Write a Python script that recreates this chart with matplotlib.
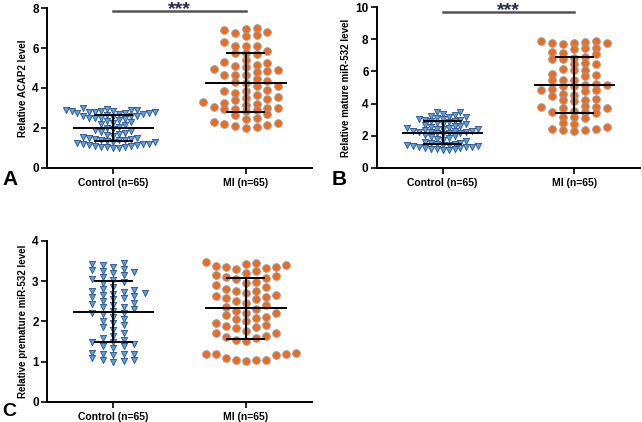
import matplotlib
matplotlib.use("Agg")
import matplotlib.pyplot as plt
import numpy as np

plt.rcParams["font.family"] = ["Liberation Sans", "DejaVu Sans"]
plt.rcParams["font.weight"] = "bold"

groups = ["Control (n=65)", "MI (n=65)"]

# Panel A: relative ACAP2 level
acap2_control = [2.98, 2.95, 2.92, 2.90, 2.88, 2.86, 2.85, 2.83, 2.82, 2.80, 2.78, 2.77, 2.75, 2.74, 2.72,
                 2.68, 2.65, 2.62, 2.60, 2.58, 2.55, 2.52, 2.50, 2.48, 2.45,
                 2.38, 2.33, 2.28, 2.24, 2.20, 2.15,
                 2.05, 1.98, 1.93, 1.88, 1.84,
                 1.78, 1.74, 1.70, 1.66, 1.62,
                 1.55, 1.52, 1.50, 1.47, 1.45, 1.42, 1.40, 1.38, 1.35, 1.32,
                 1.28, 1.25, 1.22, 1.20, 1.18, 1.15, 1.12, 1.10, 1.07, 1.05, 1.03, 1.01, 1.00, 1.16]
acap2_mi = [7.00, 6.95, 6.92, 6.82, 6.77, 6.67, 6.62,
            6.29, 6.10, 6.10, 6.08,
            5.83, 5.76, 5.76, 5.68,
            5.38, 5.29, 5.26, 5.16, 5.10, 5.03,
            4.93, 4.90, 4.83, 4.80, 4.63, 4.63, 4.63,
            4.43, 4.37, 4.30, 4.23, 4.10, 4.10,
            3.88, 3.87, 3.83, 3.77, 3.63, 3.55, 3.50, 3.44, 3.40,
            3.29, 3.27, 3.22, 3.17, 3.07, 3.02, 3.00, 2.97, 2.94,
            2.89, 2.84, 2.69, 2.64, 2.52, 2.44, 2.32, 2.27, 2.22, 2.17, 2.10, 2.05, 2.00]

# Panel B: relative mature miR-532 level
mature_control = [3.50, 3.45, 3.38, 3.30, 3.25, 3.20, 3.15, 3.10, 3.05, 3.02, 3.00, 2.98, 2.95,
                  2.90, 2.85, 2.80, 2.75, 2.72, 2.68, 2.62, 2.58, 2.55, 2.50,
                  2.48, 2.45, 2.42, 2.40, 2.36, 2.32, 2.30, 2.28, 2.26, 2.25, 2.22, 2.20, 2.18, 2.15,
                  2.10, 2.05, 1.98, 1.92, 1.85, 1.80,
                  1.75, 1.68, 1.62, 1.58, 1.55, 1.50, 1.48, 1.45, 1.42, 1.40, 1.38,
                  1.35, 1.32, 1.30, 1.28, 1.25, 1.22, 1.20, 1.18, 1.15, 1.12, 1.10]
mature_mi = [7.90, 7.88, 7.85, 7.80, 7.78, 7.75, 7.72,
             7.48, 7.45, 7.42,
             7.20, 7.15, 7.10,
             6.88, 6.85, 6.80, 6.78,
             6.52, 6.48, 6.45,
             6.18, 6.12, 6.10,
             5.82, 5.78, 5.75,
             5.50, 5.48, 5.45,
             5.20, 5.18, 5.15, 5.12, 5.10,
             4.90, 4.85, 4.82, 4.80,
             4.58, 4.55, 4.50,
             4.28, 4.25, 4.20, 4.18,
             3.85, 3.80, 3.78, 3.75, 3.72,
             3.52, 3.48, 3.45, 3.42,
             3.20, 3.15, 3.10,
             2.80, 2.75,
             2.52, 2.45, 2.42, 2.38, 2.35, 2.32]

# Panel C: relative premature miR-532 level
premature_control = [3.45, 3.42, 3.40, 3.35, 3.30, 3.28, 3.25, 3.22, 3.20, 3.15, 3.10, 3.05, 3.02, 2.98, 2.95,
                     2.85, 2.80, 2.78, 2.75, 2.72, 2.70, 2.68, 2.65, 2.62, 2.60, 2.58, 2.55, 2.50,
                     2.45, 2.42, 2.40, 2.35, 2.35, 2.30, 2.25, 2.22, 2.20, 2.18,
                     2.10, 2.05, 2.00, 1.95, 1.90, 1.85, 1.78,
                     1.70, 1.65, 1.60, 1.55, 1.50, 1.48, 1.45, 1.40, 1.38, 1.35,
                     1.22, 1.20, 1.19, 1.18, 1.16, 1.08, 1.05, 1.03, 1.02, 1.00]
premature_mi = [3.48, 3.45, 3.42, 3.40, 3.38, 3.36, 3.35, 3.33, 3.30,
                3.25, 3.20, 3.15, 3.12, 3.10, 3.08, 3.05,
                2.98, 2.95, 2.90, 2.85, 2.80, 2.75, 2.75, 2.70, 2.65, 2.62, 2.60, 2.58, 2.55,
                2.50, 2.45, 2.40, 2.35, 2.30, 2.25, 2.22, 2.20, 2.15,
                2.10, 2.08, 2.05, 2.00, 1.95, 1.90, 1.88, 1.85, 1.83,
                1.75, 1.72, 1.70, 1.65, 1.62, 1.58, 1.55, 1.52,
                1.22, 1.20, 1.19, 1.18, 1.16, 1.08, 1.05, 1.04, 1.03, 1.02]

BLUE, BLUE_EDGE = "#5aa0e6", "#2b4f80"
ORANGE, ORANGE_EDGE = "#f26a1b", "#9a9a9a"


def swarm_x(vals, center, gap, dx):
    """Prism-like column scatter: each point goes to the nearest column where it
    does not sit closer than `gap` (data units) to a point already there."""
    vals = np.asarray(vals, float)
    cols = {}
    xs = np.empty(len(vals))
    flip = 1
    for i in np.argsort(vals):
        y = vals[i]
        k = None
        step = 0
        while k is None:
            cands = [0] if step == 0 else [flip * step, -flip * step]
            for c in cands:
                if all(abs(y - yy) >= gap for yy in cols.get(c, [])):
                    k = c
                    break
            step += 1
        if k != 0:
            flip = -flip
        cols.setdefault(k, []).append(y)
        xs[i] = center + k * dx
    return xs


def mean_sd(ax, vals, center):
    m, s = np.mean(vals), np.std(vals, ddof=1)
    ax.plot([center - 0.3, center + 0.3], [m, m], color="black", lw=1.4, zorder=5)
    ax.plot([center - 0.14, center + 0.14], [m + s, m + s], color="black", lw=1.4, zorder=5)
    ax.plot([center - 0.14, center + 0.14], [m - s, m - s], color="black", lw=1.4, zorder=5)
    ax.plot([center, center], [m - s, m + s], color="black", lw=1.4, zorder=5)


def panel(ax, ctrl, mi, ylabel, ymax, ystep, spacing, sig=None):
    (gc, dxc), (gm, dxm) = spacing
    ax.scatter(swarm_x(ctrl, 0, gc, dxc), ctrl, marker="v", s=20,
               color=BLUE, edgecolors=BLUE_EDGE, linewidths=0.6, zorder=3)
    ax.scatter(swarm_x(mi, 1, gm, dxm), mi, marker="o", s=30,
               color=ORANGE, edgecolors=ORANGE_EDGE, linewidths=0.7, zorder=3)
    mean_sd(ax, ctrl, 0)
    mean_sd(ax, mi, 1)
    ax.set_xlim(-0.5, 1.5)
    ax.set_ylim(0, ymax)
    ax.set_yticks(np.arange(0, ymax + 0.01, ystep))
    ax.set_xticks([0, 1])
    ax.set_xticklabels(groups, fontsize=7.5, fontweight="bold")
    ax.set_ylabel(ylabel, fontsize=7, fontweight="bold", labelpad=3)
    ax.tick_params(axis="y", labelsize=8.5, width=1.2, length=4, pad=2)
    ax.tick_params(axis="x", width=1.2, length=4, pad=3)
    for lab in ax.get_yticklabels():
        lab.set_fontweight("bold")
    ax.spines[["top", "right"]].set_visible(False)
    ax.spines[["left", "bottom"]].set_linewidth(1.4)
    if sig is not None:
        ax.plot([0, 1], [sig, sig], color="#555555", lw=1.8, clip_on=False)
        ax.annotate("***", xy=(0.5, sig), xytext=(0, -2.2), textcoords="offset points",
                    ha="center", va="baseline", fontsize=14, fontweight="bold",
                    color="#2a2a4a", annotation_clip=False)


fig = plt.figure(figsize=(6.42, 4.22), dpi=100)
ax_a = fig.add_axes([0.0732, 0.602, 0.413, 0.379])
ax_b = fig.add_axes([0.587, 0.602, 0.410, 0.381])
ax_c = fig.add_axes([0.0732, 0.0474, 0.413, 0.382])

panel(ax_a, acap2_control, acap2_mi, "Relative ACAP2 level", 8, 2,
      ((0.3, 0.045), (0.33, 0.081)), sig=7.85)
panel(ax_b, mature_control, mature_mi, "Relative mature miR-532 level", 10, 2,
      ((0.3, 0.045), (0.36, 0.084)), sig=9.69)
panel(ax_c, premature_control, premature_mi, "Relative premature miR-532 level", 4, 1,
      ((0.13, 0.08), (0.2, 0.075)))

W, H = 642, 422
fig.text(2 / W, 1 - 185 / H, "A", fontsize=15, fontweight="bold", ha="left", va="baseline")
fig.text(332 / W, 1 - 185 / H, "B", fontsize=15, fontweight="bold", ha="left", va="baseline")
fig.text(2 / W, 1 - 416 / H, "C", fontsize=14, fontweight="bold", ha="left", va="baseline")

fig.savefig("out.png", dpi=100)
